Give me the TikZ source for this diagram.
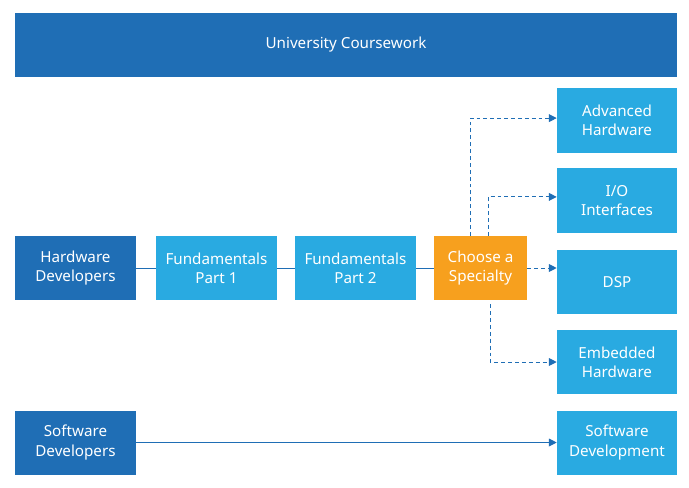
\documentclass[tikz,border=0pt]{standalone}
\definecolor{darkblue}{RGB}{31,110,181}
\definecolor{lightblue}{RGB}{41,170,225}
\definecolor{specorange}{RGB}{247,160,30}
\usepackage{fontspec}
\setmainfont{Noto Sans}
\usepackage{tikz}
\usetikzlibrary{arrows.meta,positioning}

\tikzset{
  box/.style={fill=#1,text=white,align=center,minimum height=1.6cm,inner sep=0pt},
  leftbox/.style={box=darkblue,minimum width=3.025cm},
  midbox/.style={box=lightblue,minimum width=3.025cm},
  rightbox/.style={box=lightblue,minimum width=3.0cm},
  link/.style={darkblue,line width=0.7pt},
  pick/.style={link,dash pattern=on 2.8pt off 2.1pt,-{Triangle[length=5.5pt,width=5.5pt]}}
}

\begin{document}
\begin{tikzpicture}[x=0.025cm,y=-0.025cm,font=\fontsize{10.8}{13.6}\selectfont]
        \useasboundingbox (0,0) rectangle (689,487);
        % banner across the top
        \node[box=darkblue,minimum width=16.55cm] (uni) at (346,45) {University Coursework};
        % hardware track
        \node[leftbox] (hw) at (75.5,268) {Hardware\\Developers};
        \node[midbox] (fund1) at (216.5,268) {Fundamentals\\Part 1};
        \node[midbox] (fund2) at (355.5,268) {Fundamentals\\Part 2};
        \node[box=specorange,minimum width=2.325cm] (choose) at (480.5,268) {Choose a\\Specialty};
        \node[rightbox] (adv) at (617,120.5) {Advanced\\Hardware};
        \node[rightbox] (io) at (617,200.5) {I/O\\Interfaces};
        \node[rightbox] (dsp) at (617,282) {DSP};
        \node[rightbox] (emb) at (617,362) {Embedded\\Hardware};
        % software track
        \node[leftbox] (sw) at (75.5,442.5) {Software\\Developers};
        \node[rightbox] (swdev) at (617,442.5) {Software\\Development};
        \draw[link] (hw) -- (fund1) -- (fund2) -- (choose);
        \draw[pick] ([xshift=-0.26cm]choose.north) |- ([yshift=0.06cm]adv.west);
        \draw[pick] ([xshift=0.19cm]choose.north) |- ([yshift=0.09cm]io.west);
        \draw[pick] (choose.east) -- (choose.east -| dsp.west);
        \draw[pick] ([xshift=0.24cm,yshift=-0.1cm]choose.south) |- (emb.west);
        \draw[link,-{Triangle[length=5.5pt,width=5.5pt]}] (sw) -- (swdev);
      \end{tikzpicture}
\end{document}
